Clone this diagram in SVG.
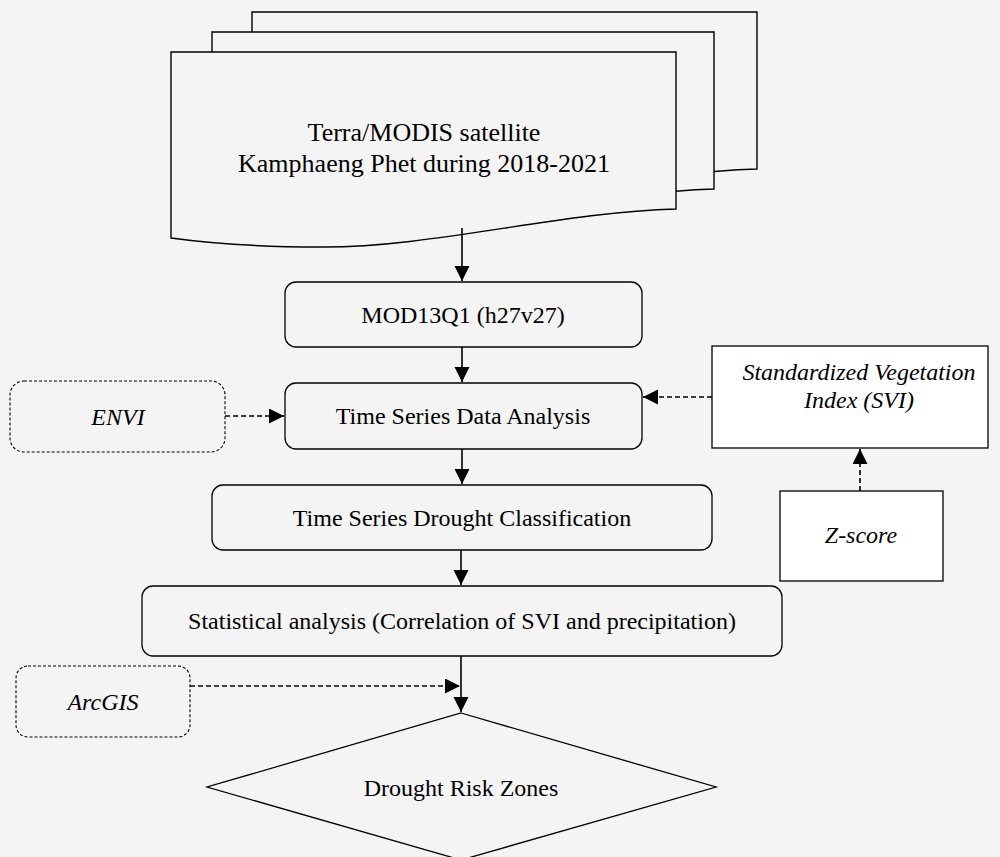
<svg xmlns="http://www.w3.org/2000/svg" width="1000" height="857" viewBox="0 0 1000 857">
<style>
text{font-family:"Liberation Serif","Times New Roman",serif;fill:#000;text-anchor:middle}
.t26{font-size:26px}
.t24{font-size:24px}
.it{font-style:italic}
.doc{fill:#f4f4f4;stroke:#000;stroke-width:1.4}
.box{fill:#f4f4f4;stroke:#000;stroke-width:1.3}
.wbox{fill:#fff;stroke:#000;stroke-width:1.3}
.dbox{fill:#f4f4f4;stroke:#000;stroke-width:1.1;stroke-dasharray:3 2}
.line{fill:none;stroke:#000;stroke-width:1.6}
.dash{fill:none;stroke:#000;stroke-width:1.6;stroke-dasharray:5 3}
</style>
<defs>
<marker id="ah" markerWidth="16" markerHeight="16" refX="15" refY="7.5" orient="auto" markerUnits="userSpaceOnUse">
<path d="M0,0 L15,7.5 L0,15 Z" fill="#000"/>
</marker>
</defs>
<rect width="1000" height="857" fill="#f4f4f4"/>
<g id="satellite-docs">
<path class="doc" d="M252,12 H757 V169 C641,172 511,208 401,207 C331,207 281,202 252,198 Z"/>
<path class="doc" d="M212,32 H714 V189 C601,192 471,228 361,227 C291,227 241,222 212,218 Z"/>
<path class="doc" d="M171,52 H676 V209 C560,212 430,248 320,247 C250,247 200,242 171,238 Z"/>
<text class="t26" x="424" y="141">Terra/MODIS satellite</text>
<text class="t26" x="424" y="172">Kamphaeng Phet during 2018-2021</text>
</g>
<g id="mod13q1">
<rect class="box" x="285" y="282" width="357" height="65" rx="11"/>
<text class="t24" x="463" y="323">MOD13Q1 (h27v27)</text>
</g>
<g id="tsda">
<rect class="box" x="285" y="383" width="357" height="66" rx="11"/>
<text class="t24" x="463" y="424">Time Series Data Analysis</text>
</g>
<g id="envi">
<rect class="dbox" x="10" y="381" width="215" height="71" rx="14"/>
<text class="t24 it" x="118" y="425">ENVI</text>
</g>
<g id="svi">
<rect class="wbox" x="712" y="346" width="276" height="102"/>
<text class="t24 it" x="859" y="380">Standardized Vegetation</text>
<text class="t24 it" x="859" y="408">Index (SVI)</text>
</g>
<g id="zscore">
<rect class="wbox" x="780" y="491" width="163" height="90"/>
<text class="t24 it" x="861" y="543">Z-score</text>
</g>
<g id="tsdc">
<rect class="box" x="212" y="485" width="500" height="65" rx="11"/>
<text class="t24" x="462" y="526">Time Series Drought Classification</text>
</g>
<g id="stat">
<rect class="box" x="142" y="586" width="640" height="70" rx="11"/>
<text class="t24" x="462" y="629">Statistical analysis (Correlation of SVI and precipitation)</text>
</g>
<g id="arcgis">
<rect class="dbox" x="16" y="666" width="174" height="71" rx="12"/>
<text class="t24 it" x="103" y="710">ArcGIS</text>
</g>
<g id="zones">
<polygon class="box" points="461,713 716,787 461,860 207,787"/>
<text class="t24" x="461" y="796">Drought Risk Zones</text>
</g>
<g id="connectors">
<line class="line" x1="462" y1="228" x2="462" y2="281" marker-end="url(#ah)"/>
<line class="line" x1="462" y1="347" x2="462" y2="382" marker-end="url(#ah)"/>
<line class="line" x1="462" y1="449" x2="462" y2="484" marker-end="url(#ah)"/>
<line class="line" x1="461" y1="550" x2="461" y2="585" marker-end="url(#ah)"/>
<line class="line" x1="461" y1="656" x2="461" y2="712" marker-end="url(#ah)"/>
<line class="dash" x1="225" y1="416" x2="284" y2="416" marker-end="url(#ah)"/>
<line class="dash" x1="712" y1="397" x2="643" y2="397" marker-end="url(#ah)"/>
<line class="dash" x1="860" y1="491" x2="860" y2="449" marker-end="url(#ah)"/>
<line class="dash" x1="190" y1="686" x2="460" y2="686" marker-end="url(#ah)"/>
</g>
</svg>
